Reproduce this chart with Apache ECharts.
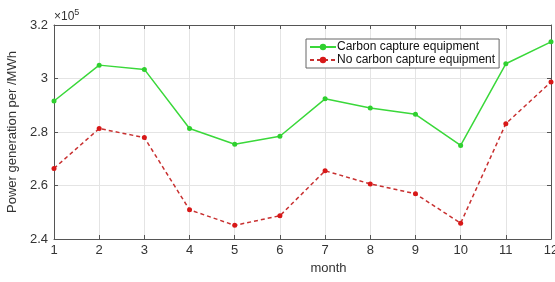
<!DOCTYPE html>
<html>
<head>
<meta charset="utf-8">
<script src="https://cdn.jsdelivr.net/npm/echarts@6/dist/echarts.min.js"></script>
<style>
  html, body { margin: 0; padding: 0; background: #fff; }
  #main { width: 555px; height: 282px; }
</style>
</head>
<body>
<div id="main"></div>
<script>
// month categories and values (x10^5 MWh)
const months = ['1', '2', '3', '4', '5', '6', '7', '8', '9', '10', '11', '12'];
const withCapture = [2.916, 3.05, 3.034, 2.813, 2.754, 2.784, 2.924, 2.89, 2.866, 2.75, 3.055, 3.137];
const noCapture = [2.664, 2.813, 2.779, 2.509, 2.451, 2.487, 2.655, 2.606, 2.569, 2.459, 2.831, 2.987];
const yTicks = [2.4, 2.6, 2.8, 3.0, 3.2];

let myChart = echarts.init(document.getElementById('main'));

const axisColor = '#555';
const gridColor = '#e4e4e4';
const font = 'Helvetica, Arial, "Liberation Sans", sans-serif';

let option = {
  animation: false,
  textStyle: { fontFamily: font },
  grid: { left: 54, right: 4, top: 25, bottom: 43, outerBoundsMode: 'none' },
  legend: {
    orient: 'vertical',
    left: 306, top: 39,
    itemGap: 1,
    itemWidth: 26, itemHeight: 8,
    padding: [2, 4, 2, 3],
    borderColor: '#666', borderWidth: 1,
    backgroundColor: '#fff',
    textStyle: { fontSize: 12, color: '#111', fontFamily: font, padding: [0, 0, 0, -4] },
    data: ['Carbon capture equipment', 'No carbon capture equipment']
  },
  xAxis: [{
    type: 'value',
    min: 1, max: 12, interval: 1,
    name: 'month', nameLocation: 'middle', nameGap: 20,
    nameTextStyle: { fontSize: 13, color: '#333', padding: [0, 0, 0, 52] },
    axisLine: { lineStyle: { color: axisColor } },
    axisTick: { inside: true, length: 4, lineStyle: { color: axisColor } },
    axisLabel: { fontSize: 13, color: '#333', margin: 5, formatter: v => months[v - 1] },
    splitLine: { show: true, lineStyle: { color: gridColor } }
  }, {
    type: 'value', position: 'top',
    min: 1, max: 12, interval: 1,
    axisLine: { show: true, lineStyle: { color: axisColor } },
    axisTick: { inside: true, length: 4, lineStyle: { color: axisColor } },
    axisLabel: { show: false },
    splitLine: { show: false }
  }],
  yAxis: [{
    type: 'value',
    min: 2.4, max: 3.2, interval: 0.2,
    name: 'Power generation per /MWh', nameLocation: 'middle', nameGap: 30,
    nameTextStyle: { fontSize: 13, color: '#333' },
    axisLine: { show: true, lineStyle: { color: axisColor } },
    axisTick: { show: true, inside: true, length: 4, lineStyle: { color: axisColor } },
    axisLabel: {
      fontSize: 13, color: '#333', margin: 6,
      formatter: v => {
        const t = yTicks.find(k => Math.abs(k - v) < 1e-6);
        return t === undefined ? '' : String(Math.round(t * 10) / 10);
      }
    },
    splitLine: { show: true, lineStyle: { color: gridColor } }
  }, {
    type: 'value', position: 'right',
    min: 2.4, max: 3.2, interval: 0.2,
    axisLine: { show: true, lineStyle: { color: axisColor } },
    axisTick: { show: true, inside: true, length: 4, lineStyle: { color: axisColor } },
    axisLabel: { show: false },
    splitLine: { show: false }
  }],
  graphic: [{
    type: 'text', left: 54, top: 8,
    style: {
      text: '{a|×10}{b|5}',
      rich: {
        a: { fontSize: 12, fill: '#333', fontFamily: font },
        b: { fontSize: 9, fill: '#333', fontFamily: font, verticalAlign: 'top', padding: [0, 0, 8, 0] }
      }
    }
  }],
  series: [{
    name: 'Carbon capture equipment',
    type: 'line',
    symbol: 'circle', symbolSize: 5,
    lineStyle: { color: '#3ad83a', width: 1.5 },
    itemStyle: { color: '#2fd02f' },
    data: withCapture.map((v, i) => [i + 1, v])
  }, {
    name: 'No carbon capture equipment',
    type: 'line',
    symbol: 'circle', symbolSize: 5,
    lineStyle: { color: '#c83030', width: 1.5, type: [4, 3] },
    itemStyle: { color: '#d81818' },
    data: noCapture.map((v, i) => [i + 1, v])
  }]
};

myChart.setOption(option);
</script>
</body>
</html>
